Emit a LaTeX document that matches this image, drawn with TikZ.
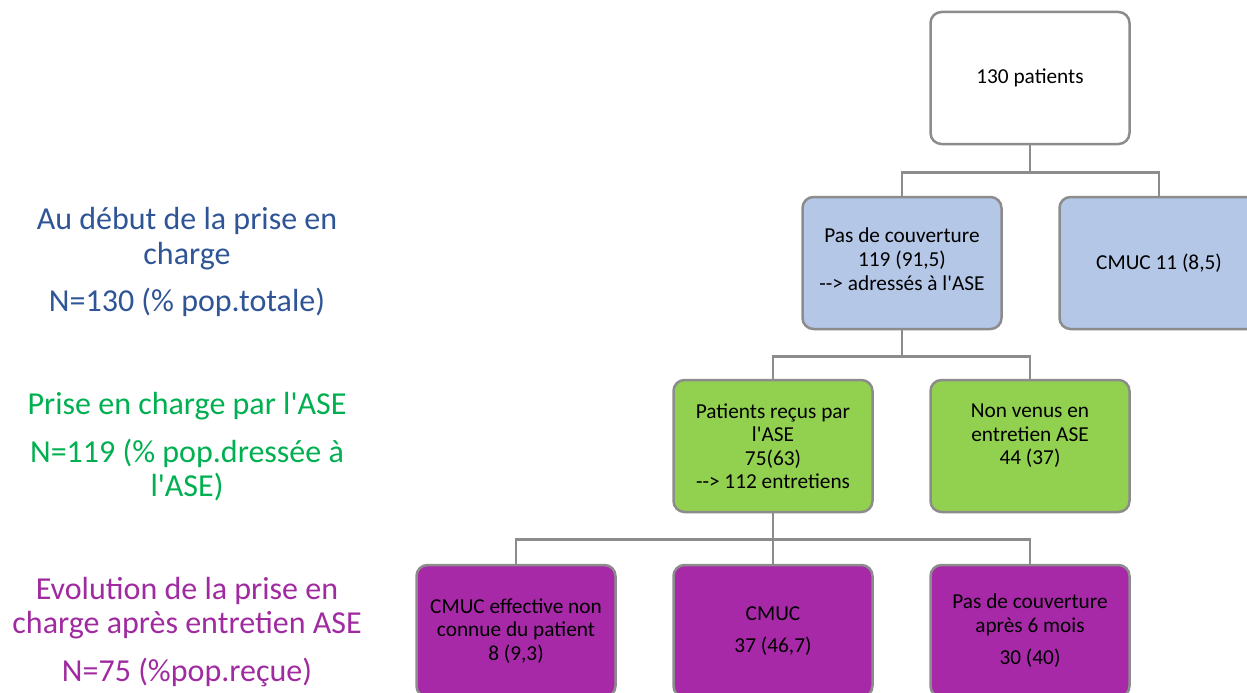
\documentclass[tikz,border=0pt]{standalone}
\usepackage{fontspec}
\setmainfont{Carlito}[Ligatures=TeXOff]
\usetikzlibrary{positioning}
\definecolor{lineGray}{RGB}{140,140,140}
\definecolor{blueFill}{RGB}{180,199,231}
\definecolor{greenFill}{RGB}{146,208,80}
\definecolor{purpleFill}{RGB}{167,41,167}
\definecolor{blueText}{RGB}{47,85,151}
\definecolor{greenText}{RGB}{0,176,80}
\definecolor{purpleText}{RGB}{160,43,160}

\tikzset{
    box/.style={draw=lineGray, line width=2.5pt, rounded corners=11pt,
                minimum width=199pt, minimum height=132pt, inner sep=0pt,
                align=center, font=\fontsize{21.3}{23.5}\selectfont},
    bluebox/.style={box, fill=blueFill},
    greenbox/.style={box, fill=greenFill},
    purplebox/.style={box, fill=purpleFill},
    fork/.style={draw=lineGray, line width=2.5pt},
    levelText/.style={align=center, font=\fontsize{32}{34.5}\selectfont}
}

\begin{document}
\begin{tikzpicture}[x=1pt,y=1pt]
    \useasboundingbox (0,0) rectangle (1247,-693);

    % Levels on the left
    \node[levelText, text=blueText] (lvlA) at (187,-262)
        {Au d\'ebut de la prise en\\charge\\[13pt]N=130 (\% pop.totale)};
    \node[levelText, text=greenText] (lvlB) at (187,-447)
        {Prise en charge par l'ASE\\[13pt]N=119 (\% pop.dress\'ee \`a\\l'ASE)};
    \node[levelText, text=purpleText] (lvlC) at (187,-632)
        {Evolution de la prise en\\charge apr\`es entretien ASE\\[13pt]N=75 (\%pop.re\c{c}ue)};

    % Tree
    \node[box, fill=white] (total) at (1030,-78) {130 patients};

    \node[bluebox] (sansCouv) at (902,-263)
        {Pas de couverture\\119 (91,5)\\[1pt]--> adress\'es \`a l'ASE\\[-16pt]~};
    \node[bluebox] (cmucA) at (1159,-263) {CMUC 11 (8,5)};

    \node[greenbox] (recus) at (773,-446)
        {Patients re\c{c}us par\\l'ASE\\75(63)\\--> 112 entretiens};
    \node[greenbox] (nonVenus) at (1030,-446)
        {Non venus en\\entretien ASE\\44 (37)\\[0pt]~};

    \node[purplebox] (nonConnue) at (516,-631)
        {CMUC effective non\\connue du patient\\8 (9,3)};
    \node[purplebox] (cmucB) at (773,-631) {CMUC\\[9pt]37 (46,7)};
    \node[purplebox] (sixMois) at (1030,-631)
        {Pas de couverture\\apr\`es 6 mois\\[9pt]30 (40)};

    % Connectors
    \draw[fork] (total.south) -- +(0,-27) -| (sansCouv.north);
    \draw[fork] (total.south) -- +(0,-27) -| (cmucA.north);
    \draw[fork] (sansCouv.south) -- +(0,-26) -| (recus.north);
    \draw[fork] (sansCouv.south) -- +(0,-26) -| (nonVenus.north);
    \draw[fork] (recus.south) -- +(0,-26) -| (nonConnue.north);
    \draw[fork] (recus.south) -- (cmucB.north);
    \draw[fork] (recus.south) -- +(0,-26) -| (sixMois.north);
\end{tikzpicture}
\end{document}
